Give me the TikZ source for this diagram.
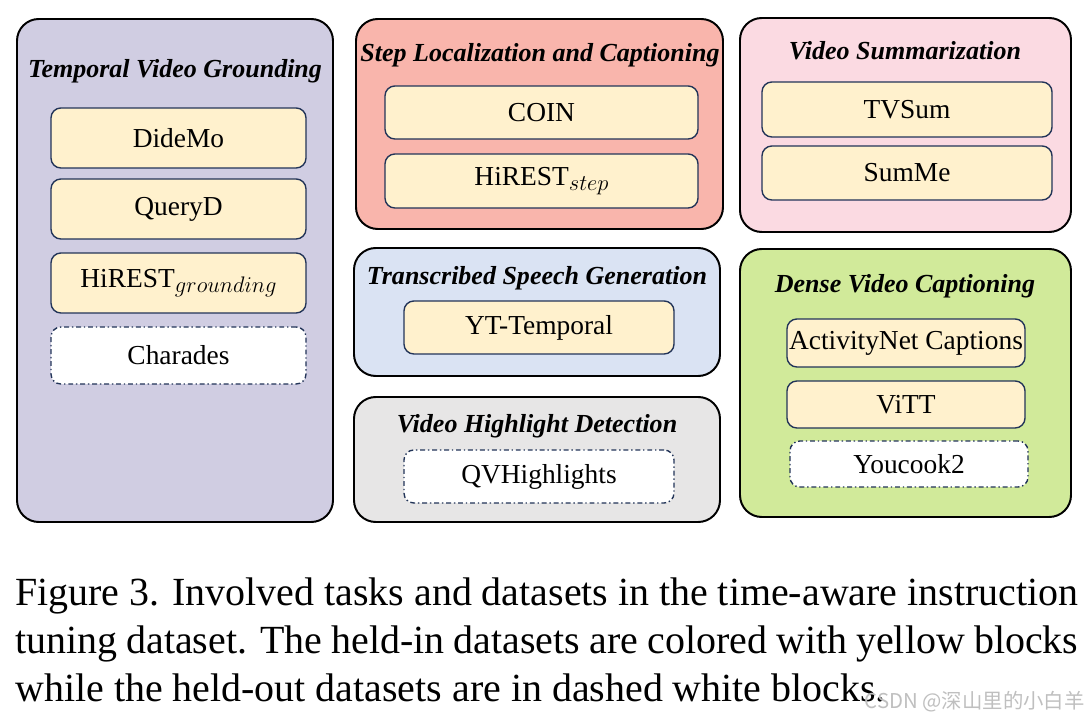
\RequirePackage{fix-cm}
\documentclass[tikz,border=0pt]{standalone}
\usepackage{fontspec}
\setmainfont{Liberation Serif}
\newfontfamily\cjkfont{Noto Sans CJK SC}
\usetikzlibrary{positioning}
\newlength{\px}\setlength{\px}{0.025cm}
\newcommand{\subidx}[1]{{\fontsize{16}{16}\selectfont\raisebox{-4pt}{$#1$}}}
\definecolor{lav}{RGB}{208,205,226}
\definecolor{salmon}{RGB}{249,181,172}
\definecolor{pinkbg}{RGB}{251,218,226}
\definecolor{bluebg}{RGB}{218,227,243}
\definecolor{graybg}{RGB}{231,230,230}
\definecolor{greenbg}{RGB}{209,234,154}
\definecolor{heldin}{RGB}{255,241,205}
\definecolor{dblue}{RGB}{34,52,88}

\begin{document}
\begin{tikzpicture}[x=0.025cm, y=-0.025cm,
  frame/.style 2 args={draw=black, line width=1.4pt, rounded corners=15.5pt, inner sep=0, minimum width=#1\px, minimum height=#2\px},
  title/.style={anchor=base, inner sep=0, font=\fontsize{18.5}{20}\selectfont\bfseries\itshape},
  data/.style 2 args={draw=dblue, fill=heldin, line width=1pt, rounded corners=7pt, inner sep=0, outer sep=0, minimum width=#1\px, minimum height=#2\px, font=\fontsize{19.5}{22}\selectfont},
  heldout/.style 2 args={data={#1}{#2}, fill=white, dash pattern=on 3.5pt off 2pt on 1pt off 2pt},
  caption/.style={anchor=base west, inner sep=0, font=\fontsize{28.4}{34}\selectfont}]
  \useasboundingbox (0,0) rectangle (1088,720);

  \node[frame={316}{503}, fill=lav] (tvg) at (175,270.5) {};
  \node[title] (tvgt) at (175,78) {Temporal Video Grounding};
  \node[data={255}{60}] (didemo) at (178.5,138) {DideMo};
  \node[data={255}{60}, below=11\px of didemo] (queryd) {QueryD};
  \node[data={255}{60}, below=14\px of queryd] (hirestg) {HiREST\subidx{grounding}};
  \node[heldout={255}{57}, below=14\px of hirestg] (charades) {Charades};

  \node[frame={367}{210}, fill=salmon] (slc) at (539.5,124) {};
  \node[title] (slct) at (540,62) {Step Localization and Captioning};
  \node[data={313}{53}] (coin) at (541.5,112.5) {COIN};
  \node[data={313}{54}, below=15\px of coin] (hirests) {HiREST\subidx{step}};

  \node[frame={366}{128}, fill=bluebg] (tsg) at (537,312) {};
  \node[title] (tsgt) at (537,285) {Transcribed Speech Generation};
  \node[data={270}{53}] (ytt) at (539,327.5) {YT-Temporal};

  \node[frame={366}{125}, fill=graybg] (vhd) at (537,459.5) {};
  \node[title] (vhdt) at (537,433) {Video Highlight Detection};
  \node[heldout={270}{53}] (qvh) at (539,476.5) {QVHighlights};

  \node[frame={331}{214}, fill=pinkbg] (vs) at (905.5,125) {};
  \node[title] (vst) at (905,60) {Video Summarization};
  \node[data={290}{55}] (tvsum) at (907,109.5) {TVSum};
  \node[data={290}{54}, below=9\px of tvsum] (summe) {SumMe};

  \node[frame={331}{268}, fill=greenbg] (dvc) at (905.5,383) {};
  \node[title] (dvct) at (905,293) {Dense Video Captioning};
  \node[data={238}{48}] (anet) at (906,343) {ActivityNet Captions};
  \node[data={238}{47}, below=14\px of anet] (vitt) {ViTT};
  \node[heldout={238}{46}, below=13\px of vitt, xshift=3\px] (youcook) {Youcook2};

  \node[caption] (cap1) at (15,606) {\makebox[1063\px][s]{Figure 3. Involved tasks and datasets in the time-aware instruction}};
  \node[caption] (cap2) at (15,654) {\makebox[1063\px][s]{tuning dataset. The held-in datasets are colored with yellow blocks}};
  \node[caption] (cap3) at (15,702) {while the held-out datasets are in dashed white blocks.};
  \node[anchor=base east, inner sep=0, text=gray!50, font=\cjkfont\fontsize{14.5}{16}\selectfont] (wm) at (1085,709) {CSDN @深山里的小白羊};
\end{tikzpicture}
\end{document}
